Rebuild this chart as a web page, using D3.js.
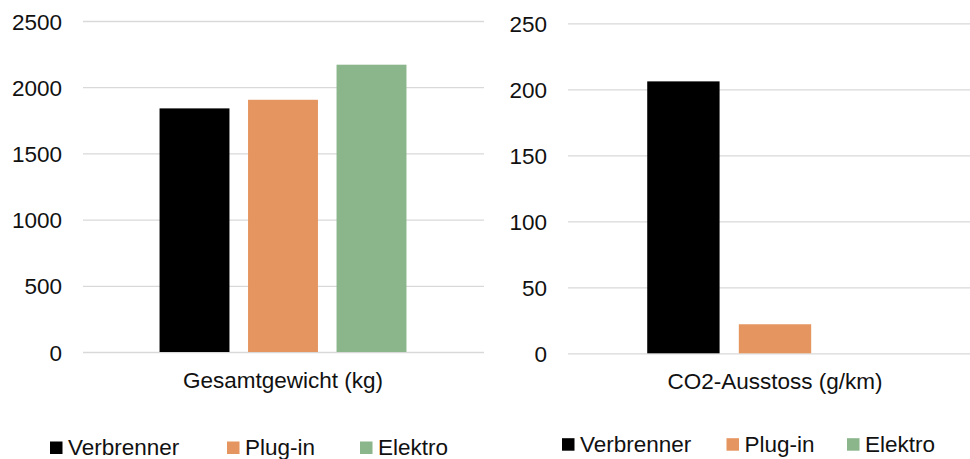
<!DOCTYPE html>
<html>
<head>
<meta charset="utf-8">
<script src="https://cdn.jsdelivr.net/npm/d3@7"></script>
<style>
  html, body { margin: 0; padding: 0; background: #fff; }
  svg { display: block; font-family: "Liberation Sans", Arial, sans-serif; }
</style>
</head>
<body>
<svg id="chart" width="970" height="459"></svg>
<script>
// Vehicle types (series) and their colours
const series = ["Verbrenner", "Plug-in", "Elektro"];
const seriesColors = ["#000000", "#E5955F", "#8BB58A"];

// Panel 1: total weight
const weightCategory = ["Gesamtgewicht (kg)"];
const weightValues = [1840, 1905, 2170];
const weightTicks = [0, 500, 1000, 1500, 2000, 2500];

// Panel 2: CO2 emissions
const co2Category = ["CO2-Ausstoss (g/km)"];
const co2Values = [206, 22, 0];
const co2Ticks = [0, 50, 100, 150, 200, 250];

const svg = d3.select("#chart");
const FONT = 22.5;
const TEXT = "#111";
const GRID = "#D9D9D9";

function panel(opts) {
  const g = svg.append("g");
  const y = d3.scaleLinear()
    .domain([0, d3.max(opts.ticks)])
    .range([opts.y0, opts.y1]);

  const x = d3.scaleBand()
    .domain(opts.category)
    .range([opts.x0, opts.x1])
    .paddingOuter(0.31)
    .paddingInner(0);

  const xs = d3.scaleBand()
    .domain(series)
    .range([0, x.bandwidth()])
    .paddingInner(0.21)
    .paddingOuter(0);

  // Gridlines and tick labels via a left axis
  const axis = d3.axisLeft(y)
    .tickValues(opts.ticks)
    .tickSize(-(opts.gridEnd - opts.x0))
    .tickPadding(opts.x0 - opts.labelRight)
    .tickFormat(d3.format("d"));

  const ax = g.append("g")
    .attr("transform", `translate(${opts.x0},0)`)
    .call(axis);
  ax.select(".domain").remove();
  ax.selectAll(".tick line")
    .attr("stroke", GRID)
    .attr("stroke-width", 1.3);
  ax.selectAll(".tick text")
    .attr("fill", TEXT)
    .attr("font-size", FONT)
    .attr("font-family", "Liberation Sans, Arial, sans-serif")
    .attr("dy", "0.36em");

  // Bars
  const values = opts.values;
  g.append("g")
    .selectAll("rect")
    .data(series.map((s, i) => ({ s, v: values[i], c: seriesColors[i] })))
    .join("rect")
    .attr("x", d => x(opts.category[0]) + xs(d.s))
    .attr("width", xs.bandwidth())
    .attr("y", d => y(d.v))
    .attr("height", d => y(0) - y(d.v))
    .attr("fill", d => d.c);

  // Category label
  g.append("text")
    .attr("x", x(opts.category[0]) + x.bandwidth() / 2)
    .attr("y", opts.titleY)
    .attr("text-anchor", "middle")
    .attr("font-size", FONT)
    .attr("fill", TEXT)
    .text(opts.category[0]);

  // Legend
  const lg = g.append("g");
  series.forEach((s, i) => {
    const lx = opts.legendX[i];
    lg.append("rect")
      .attr("x", lx)
      .attr("y", opts.legendY - 12.5)
      .attr("width", 12.5)
      .attr("height", 12.5)
      .attr("fill", seriesColors[i]);
    lg.append("text")
      .attr("x", lx + 18)
      .attr("y", opts.legendY + 1)
      .attr("font-size", FONT)
      .attr("fill", TEXT)
      .text(s);
  });
}

panel({
  category: weightCategory,
  values: weightValues,
  ticks: weightTicks,
  x0: 83, x1: 483, gridEnd: 484,
  y0: 352, y1: 21,
  labelRight: 62,
  titleY: 388,
  legendX: [50, 227, 360],
  legendY: 454
});

panel({
  category: co2Category,
  values: co2Values,
  ticks: co2Ticks,
  x0: 568, x1: 982, gridEnd: 982,
  y0: 353.3, y1: 23.3,
  labelRight: 547,
  titleY: 388.5,
  legendX: [562, 726.5, 847],
  legendY: 450.7
});
</script>
</body>
</html>
